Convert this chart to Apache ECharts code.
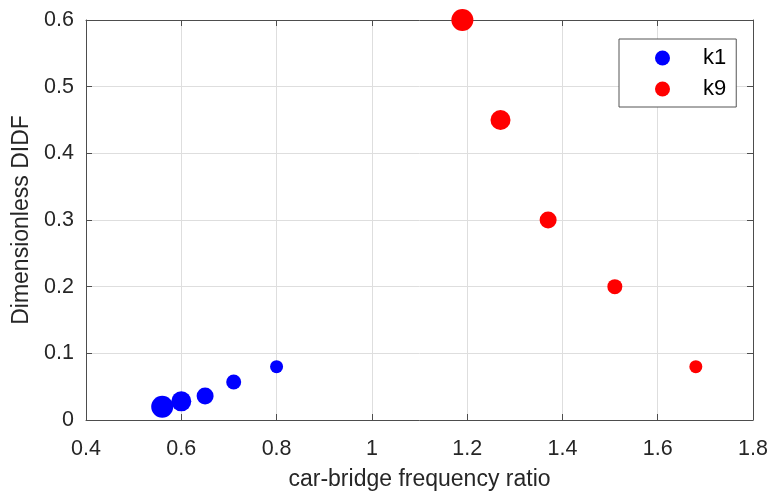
<!DOCTYPE html>
<html>
<head>
<meta charset="utf-8">
<script src="https://cdn.jsdelivr.net/npm/echarts@6/dist/echarts.min.js"></script>
<style>
  html, body { margin: 0; padding: 0; background: #fff; }
  #chart { width: 772px; height: 492px; }
</style>
</head>
<body>
<div id="chart"></div>
<script>
// values
var k1Ratio = [0.56, 0.60, 0.65, 0.71, 0.80];
var k1Didf = [0.020, 0.028, 0.036, 0.057, 0.080];
var k9Ratio = [1.19, 1.27, 1.37, 1.51, 1.68];
var k9Didf = [0.60, 0.45, 0.30, 0.20, 0.08];
var markerSize = [22, 20, 17, 15, 13];

var xTicks = ['0.4', '0.6', '0.8', '1', '1.2', '1.4', '1.6', '1.8'];
var yTicks = ['0', '0.1', '0.2', '0.3', '0.4', '0.5', '0.6'];

var font = 'Liberation Sans, Arial, Helvetica, sans-serif';
var textColor = '#262626';
var lineColor = '#4d4d4d';

var toPoints = function (xs, ys) {
    var out = [];
    for (var i = 0; i < xs.length; i++) {
        out.push({value: [xs[i], ys[i]], symbolSize: markerSize[i]});
    }
    return out;
};

var mainAxis = function (min, max, step, name, nameGap, margin, fmt) {
    return {
        type: 'value',
        min: min,
        max: max,
        interval: step,
        name: name,
        nameLocation: 'middle',
        nameGap: nameGap,
        nameTextStyle: {color: textColor, fontSize: 23, fontFamily: font},
        axisLine: {show: true, lineStyle: {color: lineColor, width: 1}},
        axisTick: {show: true, inside: true, length: 6, lineStyle: {color: lineColor}},
        axisLabel: {color: textColor, fontSize: 21.5, fontFamily: font, margin: margin, formatter: fmt},
        splitLine: {show: true, lineStyle: {color: '#dedede', width: 1}}
    };
};

var boxAxis = function (min, max, step, pos) {
    return {
        type: 'value',
        position: pos,
        min: min,
        max: max,
        interval: step,
        axisLine: {show: true, onZero: false, lineStyle: {color: lineColor, width: 1}},
        axisTick: {show: true, inside: true, length: 6, lineStyle: {color: lineColor}},
        axisLabel: {show: false},
        splitLine: {show: false}
    };
};

var chart = echarts.init(document.getElementById('chart'), null, {renderer: 'canvas'});
var option = {
    animation: false,
    backgroundColor: '#fff',
    grid: {left: 86, right: 19, top: 20, bottom: 72, containLabel: false, outerBoundsMode: 'none'},
    legend: {
        orient: 'vertical',
        left: 619,
        top: 39,
        data: ['k1', 'k9'],
        icon: 'circle',
        itemWidth: 15,
        itemHeight: 15,
        itemGap: 5,
        padding: [6, 10, 5, 36],
        borderColor: '#555',
        borderWidth: 1,
        backgroundColor: '#fff',
        textStyle: {color: '#000', fontSize: 22, fontFamily: font, lineHeight: 26, padding: [0, 0, 0, 28]}
    },
    xAxis: [
        mainAxis(0.4, 1.8, 0.2, 'car-bridge frequency ratio', 48, 18, function (v) {
            return xTicks[Math.round((v - 0.4) / 0.2)];
        }),
        boxAxis(0.4, 1.8, 0.2, 'top')
    ],
    yAxis: [
        mainAxis(0, 0.6, 0.1, 'Dimensionless DIDF', 45, 12, function (v) {
            return yTicks[Math.round(v / 0.1)];
        }),
        boxAxis(0, 0.6, 0.1, 'right')
    ],
    series: [{
        name: 'k1',
        type: 'scatter',
        symbol: 'circle',
        clip: false,
        itemStyle: {color: '#0000ff', opacity: 1},
        data: toPoints(k1Ratio, k1Didf)
    }, {
        name: 'k9',
        type: 'scatter',
        symbol: 'circle',
        clip: false,
        itemStyle: {color: '#ff0000', opacity: 1},
        data: toPoints(k9Ratio, k9Didf)
    }]
};
chart.setOption(option);
</script>
</body>
</html>
